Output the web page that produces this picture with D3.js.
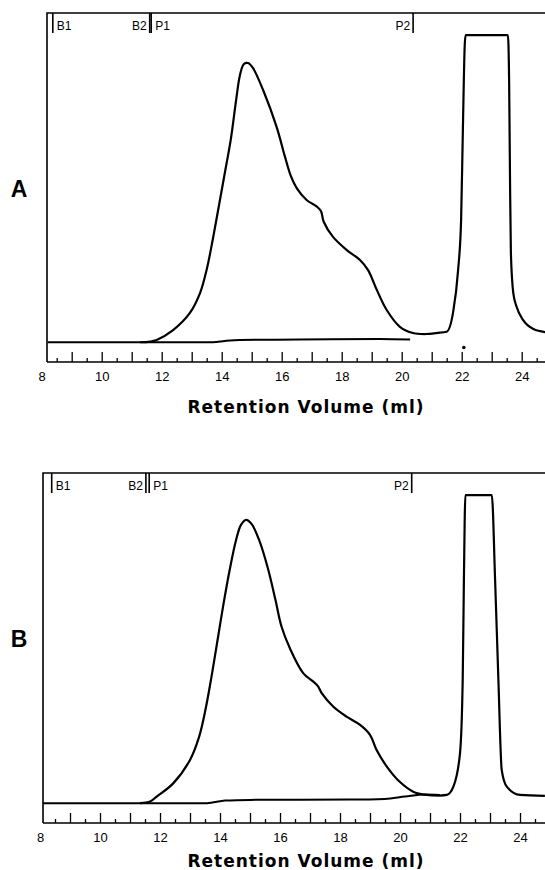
<!DOCTYPE html>
<html>
<head>
<meta charset="utf-8">
<script src="https://cdn.jsdelivr.net/npm/d3@7"></script>
<style>
  body { margin: 0; background: #fff; }
  svg { display: block; }
</style>
</head>
<body>
<div id="chart"></div>
<script>
// Retention volume (ml) and detector response (arbitrary units)

// Panel A, sample trace
const volA = [11.28, 11.61, 11.83, 12.38, 12.94, 13.28, 13.51, 13.71, 13.91, 14.11, 14.31, 14.48,
  14.61, 14.74, 14.88, 15.04, 15.38, 15.83, 16.11, 16.3, 16.5, 16.83, 17.17, 17.31, 17.4, 17.71,
  18.17, 18.61, 18.88, 19.17, 19.5, 19.94, 20.38, 20.83, 21.28, 21.5, 21.71, 21.88, 21.98,
  22.04, 22.1, 22.13, 23.54, 23.58, 23.61, 23.64, 23.72, 23.83, 24.05, 24.39, 24.78];
const absA = [0, 0.2, 0.7, 3.7, 8.9, 15.0, 22.5, 31.6, 41.6, 51.7, 62.0, 73.5,
  81.2, 84.5, 84.8, 83.3, 76.6, 65.4, 56.3, 50.6, 46.8, 43.2, 41.2, 39.8, 36.6, 32.0,
  28.0, 25.0, 21.9, 15.9, 9.8, 4.7, 2.8, 2.5, 2.9, 3.2, 8.9, 21.9, 37.1,
  65.0, 90.0, 93.3, 93.3, 80.0, 50.0, 27.0, 14.9, 10.8, 6.7, 4.0, 3.1];

// Panel A, blank trace
const blankVolA = [8.2, 13.71, 14.11, 14.61, 16.61, 19.28, 20.28];
const blankAbsA = [0, 0, 0.4, 0.7, 0.8, 1.0, 0.8];

// Panel A, dot under the axis
const dotA = [22.07, -1.6];

// Panel B, sample trace
const volB = [11.33, 11.67, 11.89, 12.44, 13.0, 13.3, 13.52, 13.72, 13.92, 14.11, 14.33, 14.53,
  14.7, 14.87, 15.05, 15.3, 15.6, 15.85, 16.05, 16.33, 16.78, 17.11, 17.27, 17.39, 17.78, 18.22, 18.67,
  19.0, 19.22, 19.56, 20.0, 20.44, 20.89, 21.33, 21.56, 21.78, 22.0, 22.09, 22.13, 22.18,
  23.06, 23.17, 23.28, 23.39, 23.56, 24.0, 24.83];
const absB = [0, 0.5, 2.0, 6.0, 13.1, 20.0, 28.5, 38.5, 49.5, 60.0, 71.0, 79.5,
  84.3, 85.8, 84.6, 79.8, 71.0, 61.5, 53.5, 46.9, 39.3, 36.8, 35.4, 33.3, 29.2, 26.2, 23.7,
  20.7, 16.1, 11.1, 6.4, 3.5, 2.5, 2.3, 2.5, 5.0, 15.1, 37.3, 67.6, 93.3,
  93.3, 67.6, 37.3, 10.1, 5.0, 2.5, 2.2];

// Panel B, blank trace
const blankVolB = [8.1, 13.57, 14.17, 15.0, 18.33, 19.5, 20.17, 20.83, 21.33];
const blankAbsB = [0, 0, 0.8, 1.0, 1.1, 1.3, 2.0, 2.6, 2.5];

// Fraction markers along the top
const markerNames = ['B1', 'B2', 'P1', 'P2'];
const markerVolA = [8.37, 11.6, 11.65, 20.38];
const markerVolB = [8.39, 11.53, 11.64, 20.39];

// Axis tick labels
const tickLabels = [8, 10, 12, 14, 16, 18, 20, 22, 24];
const xTitle = 'Retention Volume (ml)';

const width = 545;
const height = 870;

const svg = d3
  .select('#chart')
  .append('svg')
  .attr('width', width)
  .attr('height', height)
  .style('background', '#fff');

function toPoints(vols, vals) {
  return vols.map((v, i) => [v, vals[i]]);
}

function drawPanel(p) {
  const x = d3.scaleLinear().domain([8, 24]).range([p.x8, p.x8 + 480]);
  const y = d3.scaleLinear().domain([-6, 100]).range([p.axisY, p.topY]);
  const g = svg.append('g');

  // frame: left side, top, axis line
  g.append('path')
    .attr('d', `M${p.frameX},${p.axisY}V${p.topY}H${width}`)
    .attr('fill', 'none')
    .attr('stroke', '#000')
    .attr('stroke-width', 1.6);
  g.append('line')
    .attr('x1', p.frameX)
    .attr('x2', width)
    .attr('y1', p.axisY)
    .attr('y2', p.axisY)
    .attr('stroke', '#000')
    .attr('stroke-width', 1.6);

  // minor ticks at half ml, major at whole ml
  const minor = d3.range(8.5, 25, 1).filter((v) => x(v) > p.frameX && x(v) < width);
  const major = d3.range(9, 25, 1).filter((v) => x(v) > p.frameX && x(v) < width);

  const minorAxis = g
    .append('g')
    .attr('transform', `translate(0, ${p.axisY})`)
    .call(d3.axisBottom(x).tickValues(minor).tickSize(-4).tickFormat(''));
  minorAxis.select('.domain').remove();

  const majorAxis = g
    .append('g')
    .attr('transform', `translate(0, ${p.axisY})`)
    .call(d3.axisBottom(x).tickValues(major).tickSize(-10).tickFormat(''));
  majorAxis.select('.domain').remove();

  g.selectAll('.tick line').attr('stroke', '#000').attr('stroke-width', 1.3);

  const labelAxis = g
    .append('g')
    .attr('transform', `translate(0, ${p.axisY})`)
    .call(d3.axisBottom(x).tickValues(tickLabels).tickSize(0).tickPadding(10).tickFormat(d3.format('d')));
  labelAxis.select('.domain').remove();
  labelAxis
    .selectAll('text')
    .attr('font-family', 'Liberation Sans, Arial, sans-serif')
    .attr('font-size', 13)
    .attr('fill', '#000');

  // x title
  g.append('text')
    .attr('x', 306)
    .attr('y', p.titleY)
    .attr('text-anchor', 'middle')
    .attr('font-family', 'DejaVu Sans, sans-serif')
    .attr('font-weight', 'bold')
    .attr('font-size', 17)
    .attr('letter-spacing', 1)
    .text(xTitle);

  // panel letter
  g.append('text')
    .attr('x', 19)
    .attr('y', p.letterY)
    .attr('text-anchor', 'middle')
    .attr('font-family', 'Liberation Sans, Arial, sans-serif')
    .attr('font-weight', 'bold')
    .attr('font-size', 23)
    .text(p.letter);

  // fraction markers
  const markers = g
    .selectAll('.marker')
    .data(markerNames.map((name, i) => ({ name, vol: p.markerVol[i] })))
    .enter()
    .append('g')
    .attr('class', 'marker');
  markers
    .append('line')
    .attr('x1', (d) => x(d.vol))
    .attr('x2', (d) => x(d.vol))
    .attr('y1', p.topY)
    .attr('y2', p.topY + 20)
    .attr('stroke', '#000')
    .attr('stroke-width', 1.6);
  markers
    .append('text')
    .attr('x', (d) => (d.name === 'B2' || d.name === 'P2' ? x(d.vol) - 3 : x(d.vol) + 4))
    .attr('y', p.topY + 17)
    .attr('text-anchor', (d) => (d.name === 'B2' || d.name === 'P2' ? 'end' : 'start'))
    .attr('font-family', 'Liberation Sans, Arial, sans-serif')
    .attr('font-size', 12)
    .text((d) => d.name);

  const sharpLine = d3
    .line()
    .x((d) => x(d[0]))
    .y((d) => y(d[1]))
    .curve(d3.curveMonotoneX);

  const smoothLine = d3
    .line()
    .x((d) => x(d[0]))
    .y((d) => y(d[1]))
    .curve(d3.curveCatmullRom.alpha(0.5));

  // blank run
  g.append('path')
    .datum(toPoints(p.blankVol, p.blankAbs))
    .attr('d', sharpLine)
    .attr('fill', 'none')
    .attr('stroke', '#000')
    .attr('stroke-width', 2);

  // sample run: broad protein peak smooth, salt peak kept square-topped
  const pts = toPoints(p.vol, p.abs);
  const split = pts.findIndex((d) => d[0] >= 21.2);
  g.append('path')
    .datum(pts.slice(0, split + 1))
    .attr('d', smoothLine)
    .attr('fill', 'none')
    .attr('stroke', '#000')
    .attr('stroke-width', 2.2);
  g.append('path')
    .datum(pts.slice(split))
    .attr('d', sharpLine)
    .attr('fill', 'none')
    .attr('stroke', '#000')
    .attr('stroke-width', 2.2)
    .attr('stroke-linejoin', 'round');

  if (p.dot) {
    g.append('circle')
      .attr('cx', x(p.dot[0]))
      .attr('cy', y(p.dot[1]))
      .attr('r', 1.8)
      .attr('fill', '#000');
  }
}

drawPanel({
  letter: 'A', letterY: 197, x8: 41.7, frameX: 47, topY: 13, axisY: 362, titleY: 413,
  vol: volA, abs: absA, blankVol: blankVolA, blankAbs: blankAbsA,
  markerVol: markerVolA, dot: dotA,
});

drawPanel({
  letter: 'B', letterY: 647, x8: 40, frameX: 43, topY: 473, axisY: 823, titleY: 867,
  vol: volB, abs: absB, blankVol: blankVolB, blankAbs: blankAbsB,
  markerVol: markerVolB, dot: null,
});
</script>
</body>
</html>
